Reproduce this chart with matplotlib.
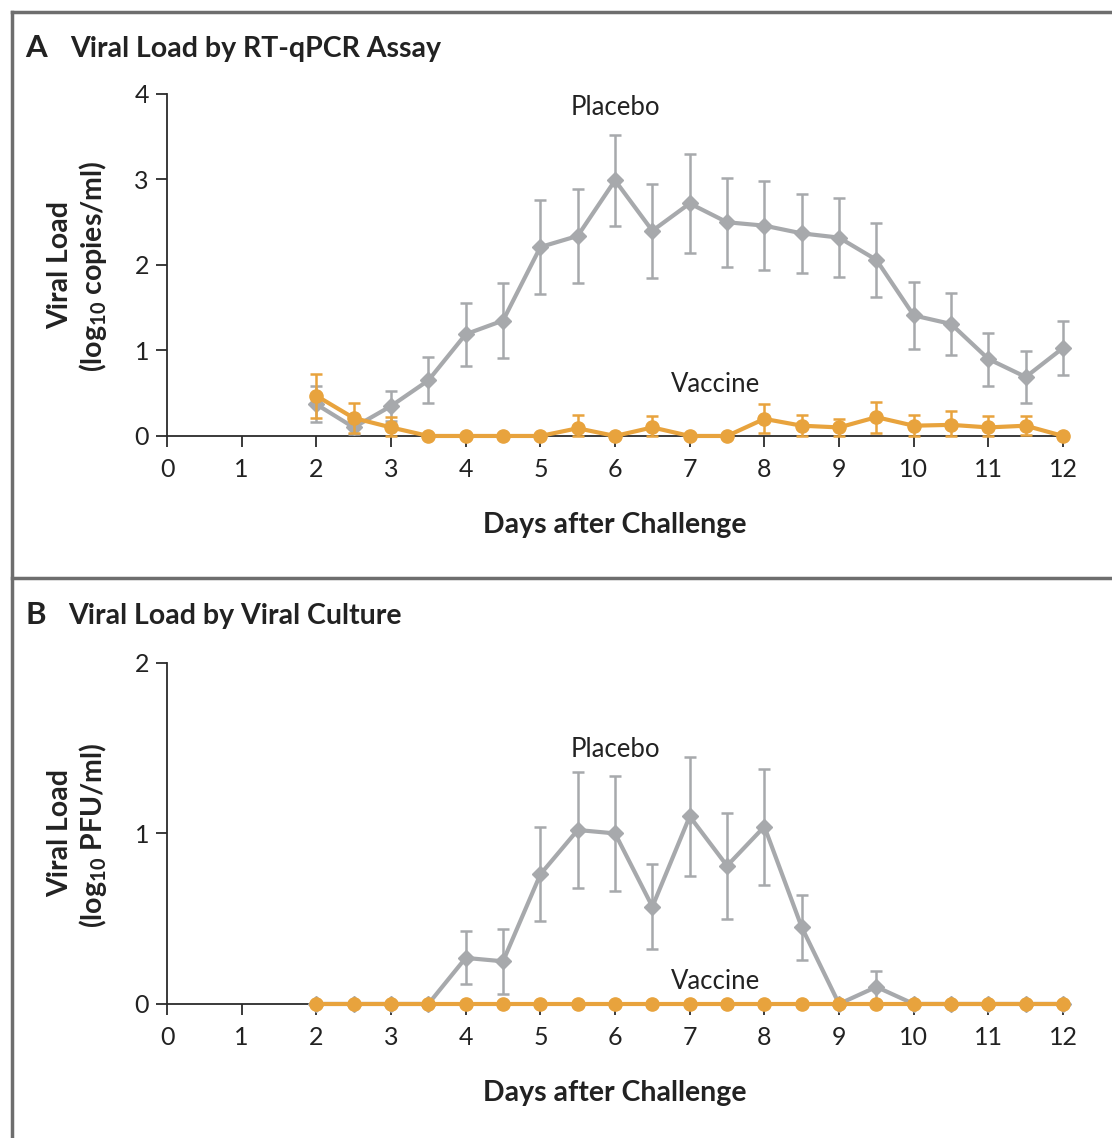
import numpy as np
import matplotlib
matplotlib.use("Agg")
from matplotlib import pyplot as plt
from matplotlib.lines import Line2D

plt.rcParams['font.family'] = ['Lato', 'DejaVu Sans']
plt.rcParams['mathtext.fontset'] = 'custom'
plt.rcParams['mathtext.rm'] = 'Lato:bold'
plt.rcParams['mathtext.it'] = 'Lato:bold'
plt.rcParams['mathtext.bf'] = 'Lato:bold'

# days after challenge
days = [2, 2.5, 3, 3.5, 4, 4.5, 5, 5.5, 6, 6.5, 7, 7.5, 8, 8.5, 9, 9.5, 10, 10.5, 11, 11.5, 12]

# panel A: RT-qPCR (log10 copies/ml)
pcr_placebo = [0.37, 0.10, 0.35, 0.65, 1.19, 1.35, 2.21, 2.34, 2.99, 2.40, 2.72, 2.50, 2.46, 2.37, 2.32, 2.06, 1.41, 1.31, 0.90, 0.69, 1.03]
pcr_placebo_err = [0.21, 0.08, 0.18, 0.27, 0.37, 0.44, 0.55, 0.55, 0.53, 0.55, 0.58, 0.52, 0.52, 0.46, 0.46, 0.43, 0.39, 0.36, 0.31, 0.30, 0.32]
pcr_vaccine = [0.47, 0.21, 0.10, 0, 0, 0, 0, 0.09, 0, 0.10, 0, 0, 0.20, 0.12, 0.10, 0.22, 0.12, 0.13, 0.10, 0.12, 0]
pcr_vaccine_err = [0.26, 0.17, 0.12, 0, 0, 0, 0, 0.15, 0, 0.13, 0, 0, 0.17, 0.12, 0.10, 0.18, 0.13, 0.16, 0.13, 0.11, 0]

# panel B: viral culture (log10 PFU/ml)
cult_placebo = [0, 0, 0, 0, 0.27, 0.25, 0.76, 1.02, 1.00, 0.57, 1.10, 0.81, 1.04, 0.45, 0, 0.10, 0, 0, 0, 0, 0]
cult_placebo_err = [0, 0, 0, 0, 0.155, 0.19, 0.275, 0.34, 0.335, 0.25, 0.35, 0.31, 0.34, 0.19, 0, 0.095, 0, 0, 0, 0, 0]
cult_vaccine = [0] * 21
cult_vaccine_err = [0] * 21

GRAY = '#a7a9ac'
ORANGE = '#e8a33d'
AXIS = '#2b2b2b'
TEXT = '#222222'
FRAME = '#6e6e6e'

fig = plt.figure(figsize=(11.12, 11.38), dpi=100)
axA = fig.add_axes([0.1502, 0.6169, 0.8058, 0.3005])
axB = fig.add_axes([0.1502, 0.1178, 0.8058, 0.2997])


def draw_series(ax, y, err, color, marker, ms, z):
    y = np.array(y, dtype=float)
    err = np.array(err, dtype=float)
    lower = np.minimum(err, y)
    ax.errorbar(days, y, yerr=[lower, err], fmt='none', ecolor=color,
                elinewidth=1.8, capsize=4.5, capthick=1.8, zorder=z, clip_on=False)
    ax.plot(days, y, color=color, lw=3, marker=marker, ms=ms,
            mec=color, mfc=color, zorder=z + 1, clip_on=False)


def style_axis(ax, ymax):
    ax.set_xlim(0, 12)
    ax.set_ylim(0, ymax)
    ax.set_xticks(range(0, 13))
    ax.set_yticks(range(0, ymax + 1))
    for s in ['top', 'right']:
        ax.spines[s].set_visible(False)
    for s in ['left', 'bottom']:
        ax.spines[s].set_color(AXIS)
        ax.spines[s].set_linewidth(1.3)
        ax.spines[s].set_zorder(1)
    ax.tick_params(direction='out', length=8, width=1.3, color=AXIS,
                   labelsize=18, labelcolor=TEXT, pad=5)
    ax.tick_params(axis='x', pad=8)
    ax.set_xlabel('Days after Challenge', fontsize=20.5, fontweight='bold',
                  color=TEXT, labelpad=22)
    ax.patch.set_visible(False)


draw_series(axA, pcr_placebo, pcr_placebo_err, GRAY, 'D', 8, 3)
draw_series(axA, pcr_vaccine, pcr_vaccine_err, ORANGE, 'o', 9.5, 5)
style_axis(axA, 4)
axA.text(6.0, 3.84, 'Placebo', ha='center', va='center', fontsize=18.5, color=TEXT)
axA.text(7.34, 0.6, 'Vaccine', ha='center', va='center', fontsize=18.5, color=TEXT)

draw_series(axB, cult_placebo, cult_placebo_err, GRAY, 'D', 8, 3)
draw_series(axB, cult_vaccine, cult_vaccine_err, ORANGE, 'o', 9.5, 5)
style_axis(axB, 2)
axB.text(6.0, 1.49, 'Placebo', ha='center', va='center', fontsize=18.5, color=TEXT)
axB.text(7.34, 0.13, 'Vaccine', ha='center', va='center', fontsize=18.5, color=TEXT)

# y labels
fig.text(60 / 1112, 1 - 265 / 1138, 'Viral Load', rotation=90, ha='center', va='center',
         fontsize=20.5, fontweight='bold', color=TEXT)
fig.text(93 / 1112, 1 - 266 / 1138, r'(log$_{10}$ copies/ml)', rotation=90, ha='center',
         va='center', fontsize=20.5, fontweight='bold', color=TEXT)
fig.text(60 / 1112, 1 - 833 / 1138, 'Viral Load', rotation=90, ha='center', va='center',
         fontsize=20.5, fontweight='bold', color=TEXT)
fig.text(93 / 1112, 1 - 835 / 1138, r'(log$_{10}$ PFU/ml)', rotation=90, ha='center',
         va='center', fontsize=20.5, fontweight='bold', color=TEXT)

# panel titles
fig.text(25 / 1112, 1 - 57 / 1138, 'A', fontsize=22.5, fontweight='bold', color=TEXT)
fig.text(70 / 1112, 1 - 57 / 1138, 'Viral Load by RT-qPCR Assay', fontsize=20.5,
         fontweight='bold', color=TEXT)
fig.text(25 / 1112, 1 - 624 / 1138, 'B', fontsize=22.5, fontweight='bold', color=TEXT)
fig.text(68 / 1112, 1 - 624 / 1138, 'Viral Load by Viral Culture', fontsize=20.5,
         fontweight='bold', color=TEXT)

# frame lines
fig.add_artist(Line2D([12 / 1112, 1], [1 - 12 / 1138, 1 - 12 / 1138], color=FRAME, lw=2.5))
fig.add_artist(Line2D([12 / 1112, 1], [1 - 578 / 1138, 1 - 578 / 1138], color=FRAME, lw=2.5))
fig.add_artist(Line2D([12 / 1112, 12 / 1112], [0, 1 - 12 / 1138], color=FRAME, lw=2.5))

fig.savefig('out.png', dpi=100)
